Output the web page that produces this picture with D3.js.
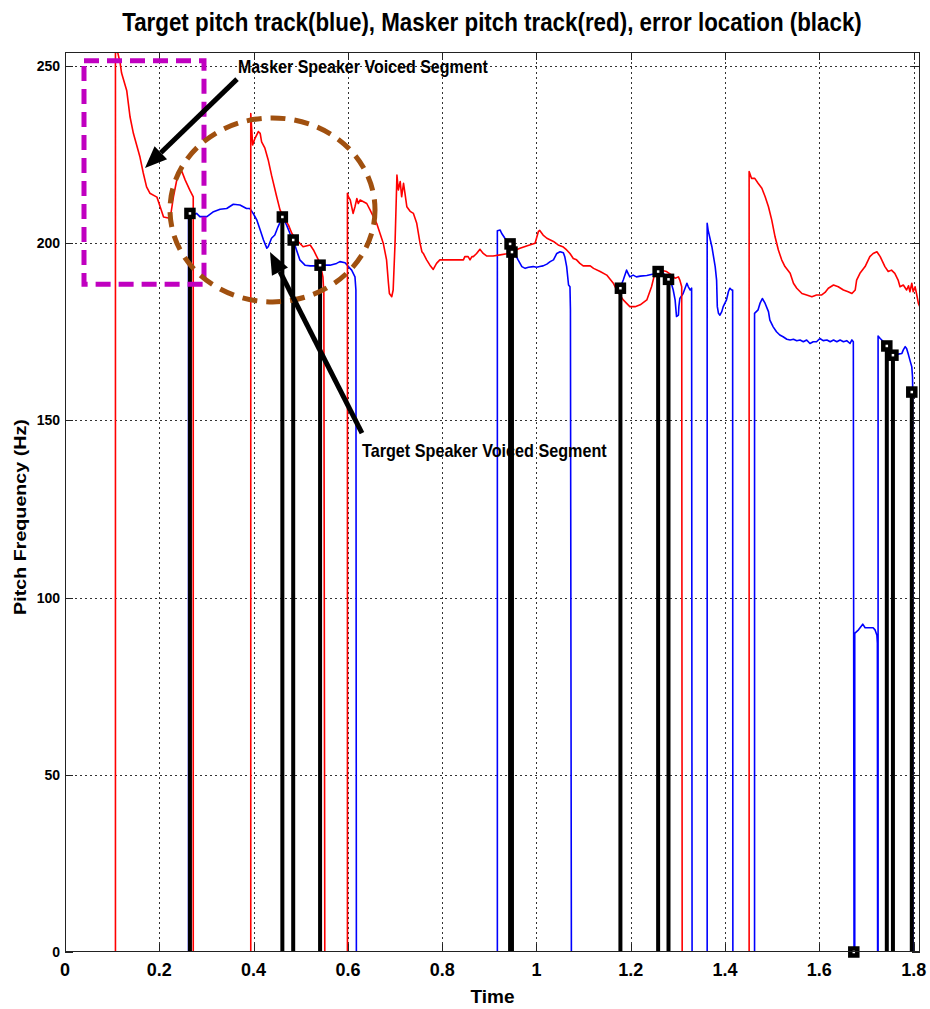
<!DOCTYPE html>
<html>
<head>
<meta charset="utf-8">
<script src="https://cdn.jsdelivr.net/npm/d3@7"></script>
<style>
  html, body { margin: 0; padding: 0; background: #fff; }
  svg { display: block; }
  .narrow { font-family: "Liberation Sans Narrow", "Arial Narrow", "Liberation Sans", Arial, sans-serif; font-weight: bold; }
  .wide { font-family: "Liberation Sans", Arial, sans-serif; font-weight: bold; }
</style>
</head>
<body>
<svg id="chart" width="930" height="1009"></svg>
<script>
// Masker pitch track (Hz), 0 where the masker is unvoiced: [time (s), pitch]
const maskerTrack = [
  [0,0],[0.107,0],[0.107,254],[0.112,253.7],[0.117,250.8],[0.120,248],[0.131,243],[0.138,235.6],[0.145,231],
  [0.159,224.3],[0.166,219.8],[0.173,215.9],[0.180,214.1],[0.195,213],[0.202,210.2],[0.209,207.4],[0.219,207.1],
  [0.223,206.9],[0.230,213.1],[0.240,219.8],[0.248,220.2],[0.255,217.8],[0.265,214.9],[0.272,213.1],[0.272,0],
  [0.394,0],[0.394,236.6],[0.398,227.7],[0.403,229.6],[0.410,231.5],[0.414,231],[0.417,228.6],[0.424,226.8],
  [0.431,223.5],[0.438,219.2],[0.449,213.1],[0.456,209.4],[0.463,207.5],[0.474,205.1],[0.481,202.8],[0.488,201.4],
  [0.498,200],[0.505,199],[0.520,199.5],[0.527,198.1],[0.534,196.2],[0.541,194.3],[0.547,190.5],[0.549,186],[0.551,0],
  [0.599,0],[0.599,214.1],[0.601,213.1],[0.605,212.2],[0.611,208.4],[0.615,210.3],[0.619,212.6],[0.622,211.2],
  [0.626,212.2],[0.633,211.7],[0.640,211.2],[0.647,209.4],[0.654,207.5],[0.661,205.6],[0.668,202.8],[0.675,200],
  [0.682,195.3],[0.686,188.7],[0.688,185.8],[0.693,184.9],[0.696,186.8],[0.700,200],[0.704,219.2],[0.707,215],
  [0.711,217.4],[0.714,213.1],[0.718,216.9],[0.721,214.1],[0.725,210.3],[0.732,209],[0.739,208.4],[0.746,205.6],
  [0.753,200],[0.757,197.6],[0.760,197.1],[0.767,195.3],[0.774,193.8],[0.781,192.6],[0.788,194.3],[0.795,195.3],
  [0.845,195.3],[0.848,196.2],[0.855,196.2],[0.859,195.3],[0.863,196.2],[0.866,196.2],[0.873,197.1],[0.880,198.3],
  [0.887,197.1],[0.894,196.4],[0.908,196.4],[0.923,196.7],[0.937,197],[0.947,197.6],[0.965,198.6],[0.979,199.2],
  [0.997,200],[1.004,203.3],[1.007,203.6],[1.014,202.3],[1.022,201.4],[1.036,200.5],[1.046,199.5],[1.057,198.9],
  [1.064,198.1],[1.071,197.1],[1.078,195.7],[1.085,195.3],[1.092,194.3],[1.099,193.6],[1.114,193.6],[1.121,192.9],
  [1.135,192],[1.149,191],[1.163,188.7],[1.170,186.8],[1.184,184],[1.198,182.1],[1.209,182.1],[1.220,182.6],
  [1.234,184],[1.244,187.7],[1.251,191.5],[1.258,192.4],[1.269,192.2],[1.276,192],[1.287,191],[1.294,190.1],
  [1.301,190.5],[1.304,189.6],[1.308,187.7],[1.309,0],
  [1.451,0],[1.451,220.2],[1.456,218.3],[1.463,218.3],[1.470,216.9],[1.478,215.5],[1.485,213.1],[1.492,210.3],
  [1.499,206.5],[1.506,201.8],[1.513,198.1],[1.520,195.3],[1.527,193.4],[1.538,191.5],[1.545,188.7],[1.552,187.3],
  [1.563,185.8],[1.573,185.4],[1.584,184.9],[1.594,185.4],[1.605,185.4],[1.612,186.1],[1.619,187.3],[1.630,188.2],
  [1.640,187.7],[1.651,186.8],[1.661,186.3],[1.669,185.8],[1.676,186.8],[1.679,189.6],[1.686,191.5],[1.697,193.4],
  [1.707,196.2],[1.714,197.1],[1.722,197.6],[1.729,196.2],[1.739,193.4],[1.746,192],[1.753,192.4],[1.760,191.5],
  [1.767,189.6],[1.771,187.7],[1.778,188.2],[1.785,186.8],[1.789,188],[1.792,186.3],[1.796,188.7],[1.799,186.3],
  [1.803,187.7],[1.806,185.8],[1.810,183],[1.813,182.1],[1.815,181]
];

// Target pitch track (Hz), 0 where the target is unvoiced: [time (s), pitch]
const targetTrack = [
  [0,0],[0.262,0],[0.262,208.4],[0.265,208.4],[0.272,208],[0.279,208.4],[0.286,207.5],[0.301,207.5],[0.315,208.9],
  [0.329,209.6],[0.343,209.8],[0.357,211],[0.371,210.8],[0.385,209.8],[0.392,209.8],[0.399,208.4],[0.407,206.5],
  [0.414,203.7],[0.421,200.9],[0.428,198.6],[0.431,199],[0.438,201.4],[0.445,202.3],[0.452,204.7],[0.460,207],
  [0.462,207.4],[0.470,205.1],[0.477,202.8],[0.484,200.9],[0.491,198.1],[0.498,195.3],[0.509,193.8],[0.520,193.6],
  [0.534,193.6],[0.541,193.8],[0.562,193.8],[0.576,194.3],[0.583,194.8],[0.594,194.5],[0.601,193.4],[0.608,192.4],
  [0.615,190.5],[0.617,186.8],[0.618,0],
  [0.917,0],[0.917,203.5],[0.923,203.7],[0.926,202.8],[0.933,201.4],[0.937,200.9],[0.940,200],[0.946,199],
  [0.954,197.1],[0.961,195.3],[0.969,193.4],[0.976,192.9],[0.983,193.2],[0.993,193.4],[1.000,193.2],[1.007,193.4],
  [1.014,193.6],[1.022,194.1],[1.029,194.8],[1.036,195.3],[1.043,197.1],[1.050,197.6],[1.057,197.3],[1.060,196.2],
  [1.064,193.4],[1.068,188.2],[1.071,187.7],[1.072,181.2],[1.074,0],
  [1.177,0],[1.177,187.3],[1.184,189.6],[1.191,192.4],[1.195,191.3],[1.198,190.5],[1.205,191],[1.212,190.5],
  [1.220,190.7],[1.234,190.9],[1.248,191.3],[1.258,192],[1.269,191.5],[1.280,189.6],[1.287,188.2],[1.290,186.8],
  [1.294,184],[1.297,179.3],[1.301,179.7],[1.302,182.1],[1.304,184.4],[1.311,185.8],[1.319,188.7],[1.322,187.7],
  [1.326,186.8],[1.329,187.3],[1.330,0],
  [1.362,0],[1.362,205.6],[1.364,203.7],[1.372,199],[1.379,193.4],[1.382,189.6],[1.3835,182.1],[1.386,180.2],
  [1.389,179.7],[1.393,180.7],[1.396,182.1],[1.403,184],[1.407,186.3],[1.410,187.3],[1.414,186.8],[1.416,186.8],[1.4165,0],
  [1.4625,0],[1.4625,180.2],[1.470,181.2],[1.474,183],[1.479,184.4],[1.485,183],[1.492,180.7],[1.495,178.3],
  [1.502,176.4],[1.509,175],[1.516,174.1],[1.523,173.6],[1.531,172.9],[1.538,172.7],[1.545,172.9],[1.552,172.5],
  [1.559,172.7],[1.566,172.2],[1.573,172.7],[1.580,171.7],[1.587,172.2],[1.594,172.2],[1.601,173.1],[1.608,172.5],
  [1.616,172.7],[1.623,172.2],[1.630,172.7],[1.637,172.2],[1.644,172.7],[1.651,172.2],[1.658,172.5],[1.665,171.7],
  [1.669,172.7],[1.672,172.2],[1.6735,0],
  [1.675,0],[1.675,89.9],[1.683,90.9],[1.692,92.5],[1.697,91.5],[1.714,91.5],[1.718,90.9],[1.722,89.4],[1.723,87.1],[1.7235,0],
  [1.7245,0],[1.7245,173.8],[1.729,173.1],[1.736,172.2],[1.743,171],[1.750,169.9],[1.757,168.5],[1.760,168.9],
  [1.767,168.7],[1.775,168.9],[1.778,169.9],[1.782,170.8],[1.785,170.3],[1.789,168.5],[1.792,167],[1.796,165.1],
  [1.7975,162.3],[1.798,158],[1.7985,0],[1.815,0]
];

// Frames where the target pitch estimate is in error: [time (s), pitch]
const errorPoints = [
  [0.265,208.4],[0.461,207.4],[0.484,200.9],[0.541,193.8],[0.944,199.8],[0.948,197.5],
  [1.178,187.3],[1.258,192],[1.280,189.8],[1.673,0],[1.743,171],[1.756,168.4],[1.796,158]
];

const xTicks = [0, 0.2, 0.4, 0.6, 0.8, 1, 1.2, 1.4, 1.6, 1.8];
const xTickLabels = ["0", "0.2", "0.4", "0.6", "0.8", "1", "1.2", "1.4", "1.6", "1.8"];
const yTicks = [0, 50, 100, 150, 200, 250];
const yTickLabels = ["0", "50", "100", "150", "200", "250"];

const titleText = "Target pitch track(blue), Masker pitch track(red), error location (black)";
const xLabelText = "Time";
const yLabelText = "Pitch Frequency (Hz)";

// Callouts, in data units
const maskerBox = { t0: 0.0403, t1: 0.2948, f0: 188.4, f1: 251.5 };
const targetEllipse = { t: 0.4401, f: 209.4, rt: 0.2174, rf: 25.96 };
const calloutArrows = [
  { from: [0.3648, 246.3], to: [0.1697, 221.2] },
  { from: [0.6299, 146.4], to: [0.4348, 197.5] }
];
const calloutTexts = [
  { text: "Masker Speaker Voiced Segment", t: 0.3669, f: 248.0, width: 250 },
  { text: "Target Speaker Voiced Segment", t: 0.6300, f: 139.6, width: 245 }
];

const svg = d3.select("#chart");
const margin = { left: 65, right: 10, top: 52, bottom: 57 };
const W = 930, H = 1009;
const x = d3.scaleLinear().domain([0, 1.8134]).range([margin.left, W - margin.right]);
const y = d3.scaleLinear().domain([0, 253.95]).range([H - margin.bottom, margin.top]);

// Squeeze or stretch a text horizontally to a given width around its anchor point
function fitWidth(sel, width, ax, ay, anchor, rotate) {
  const natural = sel.node().getComputedTextLength();
  const s = width / natural;
  sel.attr("x", 0).attr("y", 0).attr("text-anchor", anchor)
    .attr("transform", `translate(${ax},${ay})${rotate ? ` rotate(${rotate})` : ""} scale(${s},1)`);
}

svg.append("rect").attr("width", W).attr("height", H).attr("fill", "#fff");

svg.append("defs").append("clipPath").attr("id", "plotClip")
  .append("rect")
  .attr("x", x(0)).attr("y", y(253.95))
  .attr("width", x(1.8134) - x(0)).attr("height", y(0) - y(253.95));

// Dotted grid
const grid = svg.append("g").attr("stroke", "#333").attr("stroke-width", 1).attr("stroke-dasharray", "2,3");
grid.selectAll("line.v").data(xTicks.slice(1)).join("line")
  .attr("x1", d => Math.round(x(d)) + 0.5).attr("x2", d => Math.round(x(d)) + 0.5)
  .attr("y1", y(253.95)).attr("y2", y(0));
grid.selectAll("line.h").data(yTicks.slice(1)).join("line")
  .attr("y1", d => Math.round(y(d)) + 0.5).attr("y2", d => Math.round(y(d)) + 0.5)
  .attr("x1", x(0)).attr("x2", x(1.8134));

const plot = svg.append("g").attr("clip-path", "url(#plotClip)");
const line = d3.line().x(d => x(d[0])).y(d => y(d[1]));

plot.append("path").datum(targetTrack).attr("d", line)
  .attr("fill", "none").attr("stroke", "#0000ff").attr("stroke-width", 1.6).attr("stroke-linejoin", "round");
plot.append("path").datum(maskerTrack).attr("d", line)
  .attr("fill", "none").attr("stroke", "#ff0000").attr("stroke-width", 1.6).attr("stroke-linejoin", "round");

// Error stems and square markers
const errG = svg.append("g");
errG.selectAll("line").data(errorPoints).join("line")
  .attr("x1", d => x(d[0])).attr("x2", d => x(d[0]))
  .attr("y1", y(0)).attr("y2", d => y(d[1]))
  .attr("stroke", "#000").attr("stroke-width", 4);
errG.selectAll("rect").data(errorPoints).join("rect")
  .attr("x", d => x(d[0]) - 3.5).attr("y", d => y(d[1]) - 3.5)
  .attr("width", 7).attr("height", 7)
  .attr("fill", "#fff").attr("stroke", "#000").attr("stroke-width", 4.5);

// Axes frame and inward ticks
const axG = svg.append("g").attr("stroke", "#222").attr("stroke-width", 1).attr("fill", "none");
axG.append("rect").attr("x", x(0) + 0.5).attr("y", y(253.95) + 0.5)
  .attr("width", x(1.8134) - x(0) - 1).attr("height", y(0) - y(253.95) - 1);
axG.selectAll("line.xt").data(xTicks).join("line")
  .attr("x1", d => Math.round(x(d)) + 0.5).attr("x2", d => Math.round(x(d)) + 0.5)
  .attr("y1", y(0)).attr("y2", y(0) - 8);
axG.selectAll("line.xt2").data(xTicks).join("line")
  .attr("x1", d => Math.round(x(d)) + 0.5).attr("x2", d => Math.round(x(d)) + 0.5)
  .attr("y1", y(253.95)).attr("y2", y(253.95) + 8);
axG.selectAll("line.yt").data(yTicks).join("line")
  .attr("y1", d => Math.round(y(d)) + 0.5).attr("y2", d => Math.round(y(d)) + 0.5)
  .attr("x1", x(0)).attr("x2", x(0) + 8);
axG.selectAll("line.yt2").data(yTicks).join("line")
  .attr("y1", d => Math.round(y(d)) + 0.5).attr("y2", d => Math.round(y(d)) + 0.5)
  .attr("x1", x(1.8134)).attr("x2", x(1.8134) - 8);

// Tick labels
svg.append("g").selectAll("text").data(xTicks).join("text")
  .attr("class", "narrow")
  .attr("x", d => x(d)).attr("y", y(0) + 24)
  .attr("text-anchor", "middle").attr("font-size", 18)
  .text((d, i) => xTickLabels[i]);
svg.append("g").selectAll("text").data(yTicks).join("text")
  .attr("class", "wide")
  .attr("x", x(0) - 5).attr("y", d => y(d) + 5)
  .attr("text-anchor", "end").attr("font-size", 14)
  .text((d, i) => yTickLabels[i]);

// Titles
const title = svg.append("text").attr("class", "narrow").attr("font-size", 26).text(titleText);
fitWidth(title, 740, 492, 31, "middle");
svg.append("text").attr("class", "narrow")
  .attr("x", x(0.9067)).attr("y", 1003).attr("text-anchor", "middle")
  .attr("font-size", 19)
  .text(xLabelText);
const yLab = svg.append("text").attr("class", "wide").attr("font-size", 16).text(yLabelText);
fitWidth(yLab, 196, 26, 517, "middle", -90);

// Callouts
const callouts = svg.append("g");
callouts.append("rect")
  .attr("x", x(maskerBox.t0)).attr("y", y(maskerBox.f1))
  .attr("width", x(maskerBox.t1) - x(maskerBox.t0)).attr("height", y(maskerBox.f0) - y(maskerBox.f1))
  .attr("fill", "none").attr("stroke", "#c000c0").attr("stroke-width", 5).attr("stroke-dasharray", "15,8");
callouts.append("ellipse")
  .attr("cx", x(targetEllipse.t)).attr("cy", y(targetEllipse.f))
  .attr("rx", x(targetEllipse.rt) - x(0)).attr("ry", y(0) - y(targetEllipse.rf))
  .attr("fill", "none").attr("stroke", "#a0500f").attr("stroke-width", 5).attr("stroke-dasharray", "15,9");

calloutArrows.forEach(a => {
  const x1 = x(a.from[0]), y1 = y(a.from[1]), x2 = x(a.to[0]), y2 = y(a.to[1]);
  const ang = Math.atan2(y2 - y1, x2 - x1);
  const headLen = 22, headW = 9;
  const bx = x2 - headLen * Math.cos(ang), by = y2 - headLen * Math.sin(ang);
  callouts.append("line").attr("x1", x1).attr("y1", y1).attr("x2", bx).attr("y2", by)
    .attr("stroke", "#000").attr("stroke-width", 5);
  const px = -Math.sin(ang), py = Math.cos(ang);
  callouts.append("polygon")
    .attr("points", [[x2, y2], [bx + px * headW, by + py * headW], [bx - px * headW, by - py * headW]].map(p => p.join(",")).join(" "))
    .attr("fill", "#000");
});

calloutTexts.forEach(c => {
  const t = callouts.append("text").attr("class", "narrow").attr("font-size", 19).text(c.text);
  fitWidth(t, c.width, x(c.t), y(c.f), "start");
});
</script>
</body>
</html>
